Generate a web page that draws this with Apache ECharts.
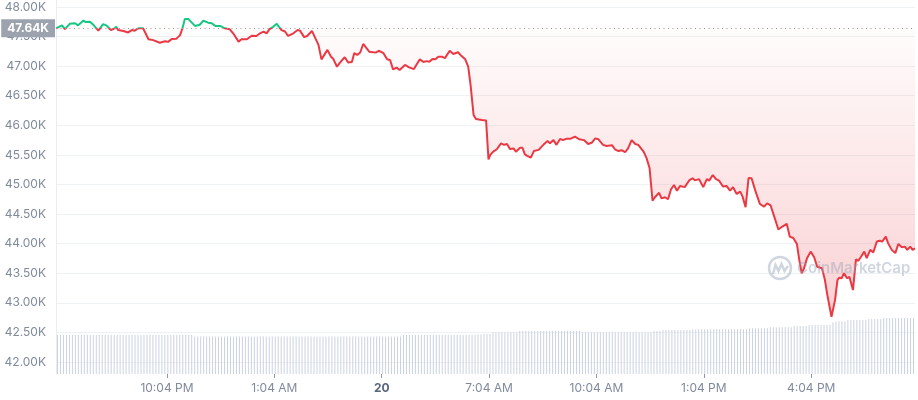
<!DOCTYPE html>
<html><head><meta charset="utf-8">
<script src="https://cdn.jsdelivr.net/npm/echarts@6/dist/echarts.min.js"></script>
<style>html,body{margin:0;padding:0;background:#fff}#c{width:918px;height:400px}</style>
</head><body><div id="c"></div>
<script>
// minutes since 6:58 PM (start of 24h window)
const lineMinutes = [0,10,15,23,32,37,46,50,57,63,
71,79,85,92,96,101,104,113,121,127,
132,138,146,155,163,174,183,188,194,202,
208,212,216,222,233,241,247,255,261,267,
275,283,291,297,306,311,320,328,336,342,
348,353,358,364,370,378,384,389,398,405,
409,416,421,429,431,440,445,455,461,465,
471,476,484,490,496,500,505,510,515,525,
532,536,541,549,555,560,565,571,576,585,
592,600,605,610,616,621,626,631,636,641,
647,652,660,666,674,678,686,691,695,700,
704,714,721,725,728,733,739,746,751,756,
761,767,771,778,782,786,790,796,801,809,
817,824,828,834,839,845,850,856,863,870,
877,885,892,898,904,909,917,923,932,937,
943,948,954,959,965,971,976,985,990,995,
1000,1004,1011,1015,1021,1026,1031,1036,1041,1046,
1054,1062,1067,1071,1078,1085,1091,1095,1101,1106,
1112,1118,1124,1130,1135,1141,1147,1151,1156,1161,
1166,1172,1180,1187,1192,1198,1202,1211,1217,1225,
1230,1236,1242,1246,1250,1254,1259,1265,1271,1276,
1284,1289,1293,1300,1306,1310,1313,1317,1321,1326,
1330,1336,1341,1345,1349,1355,1359,1365,1370,1376,
1381,1385,1391,1395,1401,1407,1412,1418,1423,1427,
1432,1436,1440];

const linePrices = [47640,47690,47625,47715,47725,47690,47770,47745,47750,47695,
47600,47710,47685,47610,47625,47665,47610,47595,47570,47610,
47600,47640,47640,47455,47440,47395,47420,47410,47460,47465,
47525,47640,47795,47795,47680,47700,47770,47735,47725,47680,
47680,47640,47625,47555,47415,47455,47455,47515,47510,47555,
47585,47555,47625,47665,47715,47610,47585,47510,47555,47610,
47600,47490,47510,47595,47585,47360,47115,47275,47160,47120,
46990,47060,47150,47060,47070,47220,47190,47230,47375,47245,
47235,47230,47260,47220,47115,47105,46945,46975,46935,47020,
46980,46950,47035,47115,47070,47085,47075,47120,47115,47160,
47160,47135,47260,47205,47235,47190,47115,46990,46680,46175,
46105,46090,46080,45425,45500,45555,45595,45695,45670,45685,
45600,45610,45555,45620,45620,45510,45485,45455,45565,45585,
45670,45735,45695,45750,45670,45770,45750,45775,45775,45810,
45765,45750,45685,45705,45780,45765,45670,45650,45665,45595,
45565,45580,45545,45610,45750,45685,45670,45555,45445,45280,
44725,44785,44860,44765,44785,44750,44920,44990,44895,44975,
44955,45075,45105,45070,45090,44955,45090,45065,45160,45095,
45060,44965,44975,44895,44955,44840,44880,44795,44615,45110,
45105,44905,44670,44625,44680,44645,44520,44240,44285,44335,
44120,44095,43995,43725,43500,43585,43755,43865,43770,43610,
43585,43385,43135,42765,43050,43385,43425,43415,43500,43415,
43440,43215,43735,43710,43770,43865,43755,43895,43850,44035,
44050,44035,44120,44005,43895,43840,43995,43940,43950,43895,
43950,43895,43920];

// 24h volume (billions USD), one bar per 5-minute bucket
const volumeStepMinutes = 5;
const volumeValues = [
24,24,24,24,24,24,24,24,24,24, 24,24,24,24,24,24,24,24,24,24,
24,24,24,24,24,24,24,24,24,24, 24,24,24,24,24,24,24,24,24,24,
24,24,24,24,24,24,
23.1,23.1,23.1,23.1,23.1,23.1,23.1,23.1,23.1,23.1, 23.1,23.1,23.1,23.1,23.1,23.1,23.1,23.1,23.1,23.1,
23.1,23.1,23.1,23.1,23.1,23.1,23.1,23.1,23.1,23.1, 23.1,23.1,23.1,23.1,23.1,23.1,23.1,23.1,23.1,23.1,
23.1,23.1,23.1,23.1,23.1,23.1,23.1,23.1,23.1,23.1, 23.1,23.1,23.1,23.1,23.1,23.1,23.1,23.1,23.1,23.1,
23.1,23.1,23.1,23.1,23.1,23.1,23.1,23.1,23.1,23.1,
24,24,24,24,24,24,24,24,24,24, 24,24,24,24,24,24,24,24,24,24, 24,24,24,24,
24.3,24.3,24.3, 24.7,24.7,24.7,
25.6,25.6,25.6,25.6,25.6,25.6,25.6,25.6,25.6,
26.4,26.4,26.4,26.4,26.4,26.4,26.4,26.4,26.4,26.4, 26.4,26.4,26.4,26.4,26.4,26.4,26.4,26.4,26.4,26.4, 26.4,
25.6,25.6,25.6,25.6,25.6,25.6,25.6,25.6,25.6,25.6, 25.6,25.6,25.6,25.6,25.6,25.6,25.6,25.6,25.6,25.6, 25.6,25.6,25.6,25.6,
26.4,26.4,26.4,
27.1,27.1,27.1,27.1,27.1,27.1,27.1,27.1,27.1,27.1,
27.5,27.5,27.5,27.5,27.5,27.5,27.5,27.5,27.5,27.5, 27.5,27.5,27.5,27.5,27.5,27.5,27.5,27.5,27.5,
28.1,28.1,28.1,28.1,28.1,28.1,28.1,
28.7,28.7,28.7,28.7,28.7,28.7,28.7,28.7,
29.5,29.5,29.5,29.5,29.5,
30.1,30.1,30.1,30.1,30.1,30.1,30.1,30.1,
31.8,32.1,32.4,32.4,32.4,
33.2,33.2,33.2,33.2,33.2,33.2,33.2,
33.8,33.8,33.8,33.8,33.8,
34.4,34.4,34.4,34.4,34.4,34.4,34.4,34.4,34.4,34.4,34.4
];

const baselinePrice = 47640;
const yTicks = [42000,42500,43000,43500,44000,44500,45000,45500,46000,46500,47000,47500,48000];
const xTickMinutes = [186,366,546,726,906,1086,1266];
const xTickLabels = ['10:04 PM','1:04 AM','20','7:04 AM','10:04 AM','1:04 PM','4:04 PM'];
const boldTickLabels = ['20'];

const lineData = lineMinutes.map((m, i) => [m, linePrices[i]]);
const volData = volumeValues.map((v, i) => [i * volumeStepMinutes + volumeStepMinutes / 2, v]);

const GREEN = '#16c784', RED = '#ea3943';
const chart = echarts.init(document.getElementById('c'), null, {renderer: 'canvas'});
const FONT = 'Inter';
const wm = 'rgba(150,163,186,0.45)';
chart.setOption({
  animation: false,
  backgroundColor: '#fff',
  grid: {left: 56, right: 3, top: 0, bottom: 26, containLabel: false},
  xAxis: {
    type: 'value', min: 0, max: 1440,
    axisLine: {show: false},
    splitLine: {show: false},
    axisTick: {show: true, customValues: xTickMinutes, length: 4, lineStyle: {color: '#8f98aa'}},
    axisLabel: {
      customValues: xTickMinutes, margin: 8,
      fontFamily: FONT, fontSize: 12, color: '#808a9d',
      formatter: v => {
        const t = xTickLabels[xTickMinutes.indexOf(v)] || '';
        return boldTickLabels.includes(t) ? '{b|' + t + '}' : t;
      },
      rich: {b: {fontFamily: FONT, fontSize: 12, fontWeight: 'bold', color: '#58667e'}}
    }
  },
  yAxis: [{
    type: 'value', min: 41797, max: 48118, position: 'left',
    axisLine: {show: true, lineStyle: {color: '#e9ecf1'}},
    axisTick: {show: false, customValues: yTicks},
    splitLine: {show: true, lineStyle: {color: '#eff2f5', width: 1}},
    axisLabel: {
      customValues: yTicks, margin: 10,
      fontFamily: FONT, fontSize: 12, color: '#808a9d',
      formatter: v => (v / 1000).toFixed(2) + 'K'
    }
  }, {
    type: 'value', min: 0, max: 230, show: false,
    splitLine: {show: false}
  }],
  graphic: [
    {type: 'circle', shape: {cx: 780, cy: 268, r: 11}, style: {fill: 'none', stroke: wm, lineWidth: 2.5}, z: 100, silent: true},
    {type: 'polyline', shape: {points: [[773, 274], [775.5, 265], [778.5, 271], [781.5, 264], [784.5, 271], [788, 266]]},
      style: {fill: 'none', stroke: wm, lineWidth: 2.5}, z: 100, silent: true},
    {type: 'text', x: 797, y: 268, style: {text: 'CoinMarketCap', font: '600 15px Inter', fill: wm, textVerticalAlign: 'middle'}, z: 100, silent: true}
  ],
  series: [{
    type: 'bar', xAxisIndex: 0, yAxisIndex: 1, data: volData,
    barWidth: 1, itemStyle: {color: '#cbd2e0'}, silent: true
  }, {
    type: 'line', data: lineData, yAxisIndex: 0,
    symbol: 'none', lineStyle: {width: 2, color: RED}, silent: true,
    areaStyle: {
      origin: baselinePrice,
      color: new echarts.graphic.LinearGradient(0, 0, 0, 1, [
        {offset: 0, color: 'rgba(234,57,67,0.01)'},
        {offset: 1, color: 'rgba(234,57,67,0.33)'}
      ])
    },
    markLine: {
      silent: true, symbol: 'none',
      lineStyle: {color: '#9a9a9a', type: [1, 3.5], width: 1},
      label: {
        position: 'start', distance: 1,
        formatter: (baselinePrice / 1000).toFixed(2) + 'K',
        color: '#fff', fontWeight: 'bold', fontSize: 12, fontFamily: FONT,
        backgroundColor: '#9ca3af', padding: [3, 6, 3, 6]
      },
      data: [{yAxis: baselinePrice}]
    }
  }]
});
// colour the line green above the opening price and red below it
const yBase = chart.convertToPixel({yAxisIndex: 0}, baselinePrice);
const H = 400, off = Math.min(1, Math.max(0, yBase / H));
chart.setOption({series: [{}, {
  lineStyle: {width: 2, color: new echarts.graphic.LinearGradient(0, 0, 0, H, [
    {offset: 0, color: GREEN}, {offset: off, color: GREEN},
    {offset: off, color: RED}, {offset: 1, color: RED}
  ], true)}
}]});
</script></body></html>
